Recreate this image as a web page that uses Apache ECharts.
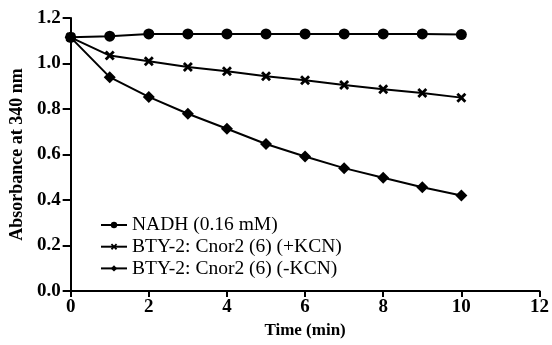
<!DOCTYPE html>
<html><head><meta charset="utf-8">
<script src="https://cdn.jsdelivr.net/npm/echarts@6/dist/echarts.min.js"></script>
<style>html,body{margin:0;padding:0;background:#fff}#c{width:552px;height:345px}</style>
</head><body><div id="c"></div>
<script>
const times = [0,1,2,3,4,5,6,7,8,9,10];
const nadh = [1.115,1.12,1.13,1.13,1.13,1.13,1.13,1.13,1.13,1.13,1.127];
const plusKCN = [1.115,1.035,1.01,0.985,0.966,0.944,0.926,0.906,0.887,0.870,0.850];
const minusKCN = [1.115,0.94,0.853,0.779,0.713,0.646,0.591,0.540,0.498,0.456,0.420];
const seriesNames = ['NADH (0.16 mM)','BTY-2: Cnor2 (6) (+KCN)','BTY-2: Cnor2 (6) (-KCN)'];
const xTicks = [0,2,4,6,8,10,12];
const yTicks = [0.0,0.2,0.4,0.6,0.8,1.0,1.2];

const font = 'Liberation Serif';
const xMark = 'path://M0,2 L2,0 L5,3 L8,0 L10,2 L7,5 L10,8 L8,10 L5,7 L2,10 L0,8 L3,5Z';
function mk(name, vals, symbol, size){
  return {name, type:'line', data: times.map((t,i)=>[t, vals[i]]), symbol, symbolSize:size,
    lineStyle:{color:'#000', width:2}, itemStyle:{color:'#000'}, animation:false};
}
const chart = echarts.init(document.getElementById('c'));
chart.setOption({
  animation:false,
  grid:{left:68, right:9, top:18, bottom:54, containLabel:false},
  legend:{left:95, top:210, padding:5, orient:'vertical', itemGap:1.7, itemWidth:26, itemHeight:8,
    textStyle:{fontFamily:font, fontSize:19.5, lineHeight:20, color:'#000'}, data:seriesNames},
  xAxis:{type:'value', min:0, max:12, interval:2, name:'Time (min)', nameLocation:'middle', nameGap:29,
    nameTextStyle:{fontFamily:font, fontSize:17, fontWeight:'bold', color:'#000', verticalAlign:'top'},
    axisLine:{lineStyle:{color:'#000', width:2}}, axisTick:{show:true, length:6, lineStyle:{color:'#000', width:2}},
    axisLabel:{fontFamily:font, fontSize:19, fontWeight:'bold', color:'#000', margin:7,
      formatter:v=>xTicks.includes(v)?String(v):''}, splitLine:{show:false}},
  yAxis:{type:'value', min:0, max:1.2, interval:0.2, name:'Absorbance at 340 nm', nameLocation:'middle', nameGap:42,
    nameTextStyle:{fontFamily:font, fontSize:18, fontWeight:'bold', color:'#000'},
    axisLine:{show:true, lineStyle:{color:'#000', width:2}}, axisTick:{show:true, length:8, lineStyle:{color:'#000', width:2}},
    axisLabel:{fontFamily:font, fontSize:19, fontWeight:'bold', color:'#000', margin:10,
      formatter:v=>{const t=yTicks.find(y=>Math.abs(y-v)<1e-6); return t===undefined?'':t.toFixed(1);}}, splitLine:{show:false}},
  series:[mk(seriesNames[0], nadh, 'circle', 11), mk(seriesNames[1], plusKCN, xMark, 10), mk(seriesNames[2], minusKCN, 'diamond', 12)]
});
</script></body></html>
